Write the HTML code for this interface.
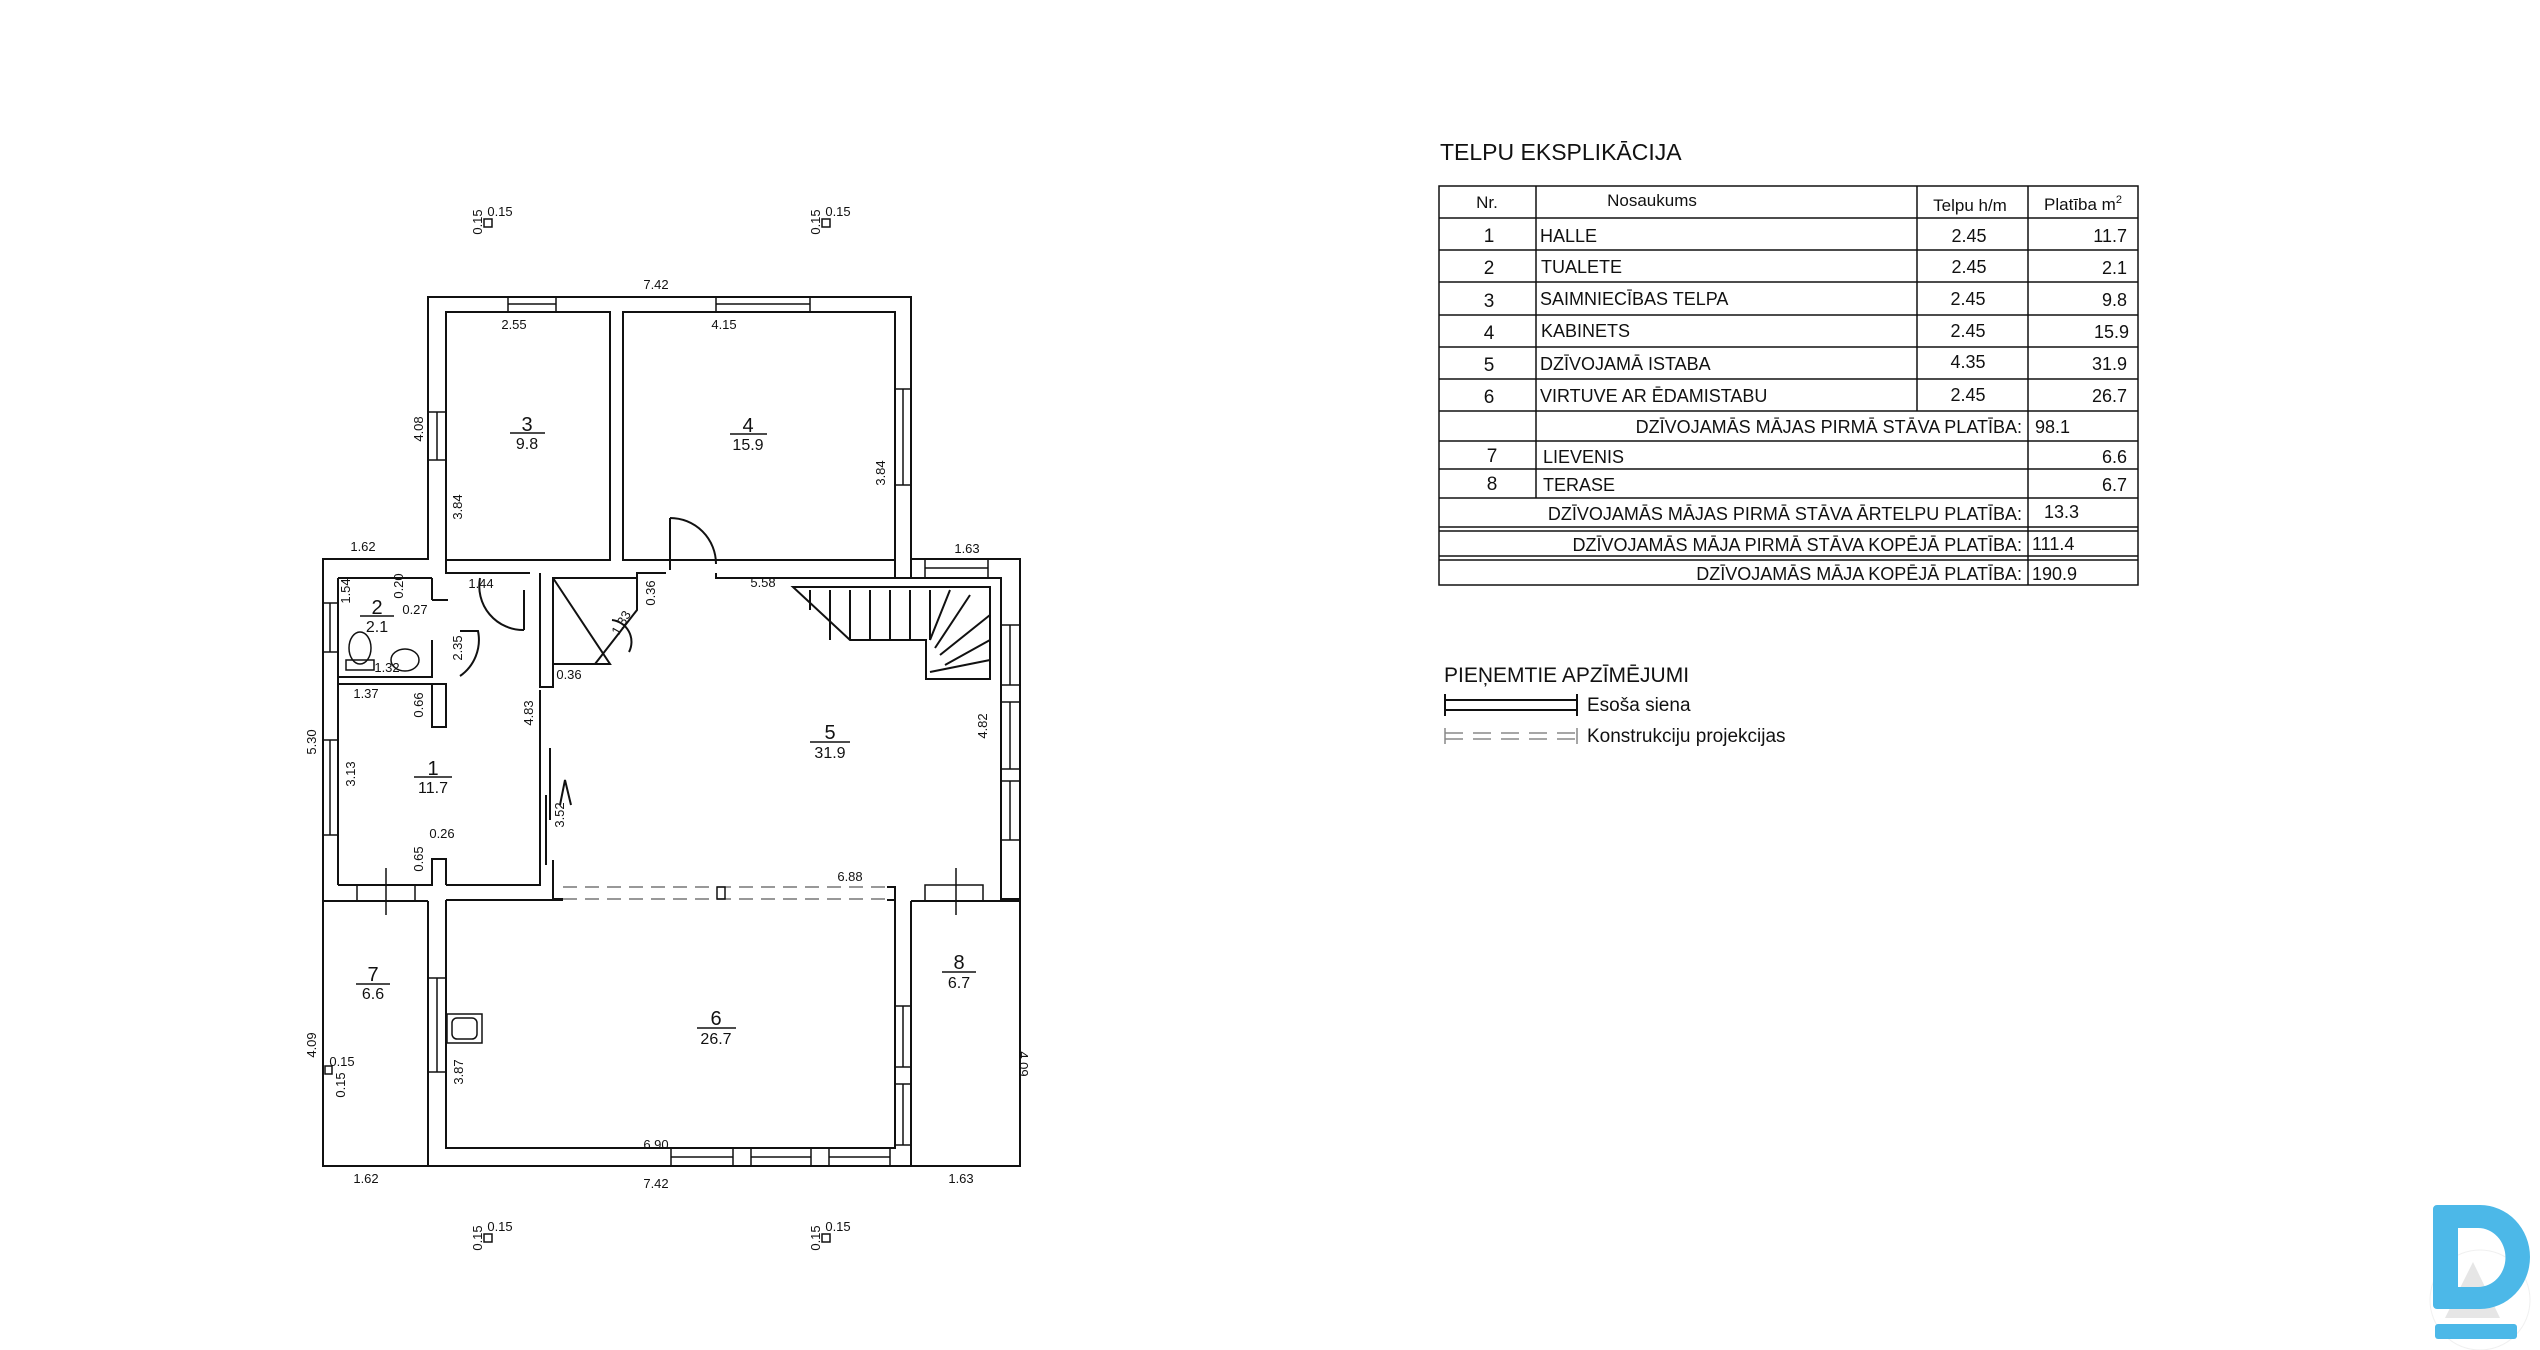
<!DOCTYPE html>
<html><head><meta charset="utf-8"><style>
html,body{margin:0;padding:0;background:#fff}
body{width:2540px;height:1350px;position:relative;overflow:hidden;font-family:"Liberation Sans",sans-serif}
svg{position:absolute;left:0;top:0}
</style></head><body>
<svg width="2540" height="1350" viewBox="0 0 2540 1350" xmlns="http://www.w3.org/2000/svg">
<g fill="none" stroke="#111" stroke-width="2">
<path d="M428 297 H911 V559 H1020 V1166 H323 V559 H428 Z"/>
<rect x="446" y="312" width="164" height="248"/>
<rect x="623" y="312" width="272" height="248"/>
<path d="M338 578 H432 M338 578 V885 M446 560 V573 H530 M540 573 V687 H553 V578 H637 V573 H666 M716 573 V578 H1001 V890"/>
<path d="M895 560 V578 M911 559 V578"/>
<!-- toilet -->
<path d="M432 578 V600 M432 640 V677 H338 M432 600 H448"/>
<path d="M338 684 H446 V727 H432 V684"/>
<path d="M338 885 H432 V859 H446 V885 M446 885 H540 V690 M553 860 V899 H563"/>
<path d="M323 901 H428 M446 900 H563 M887 900 H895 V1148 H446 V900 M428 901 V1166 M911 901 V1166 M911 901 H1020 M1001 890 V899 H1020 M887 887 H895 V900"/>
<path d="M553 578 L610 664 H553 M637 578 V610 L595 664"/>
<path d="M612 620 A 22 22 0 0 1 629 652"/>
<path d="M793 587 H990 V679 H926 V640 H850 Z"/>
<path d="M810 590 V610 M830 590 V640 M850 590 V640 M870 590 V640 M890 590 V640 M910 590 V640 M930 590 V640 M950 590 L930 640 M970 595 L935 648 M990 615 L940 655 M990 640 L945 665 M990 660 L930 672"/>
<path d="M480 578 A 44 44 0 0 0 524 630 M524 630 V590"/>
<path d="M460 631 H478 A 44 44 0 0 1 460 676"/>
<path d="M670 518 V570 M670 518 A 46 46 0 0 1 716 564"/>
<path d="M550 748 V820 M546 795 V865 M560 805 L565 780 L571 805"/>
<path d="M563 887 H887 M563 899 H887" stroke="#777" stroke-dasharray="14 8" stroke-width="1.5"/>
<rect x="717" y="887" width="8" height="12" stroke-width="1.5"/>
<g stroke-width="1.5">
<rect x="508" y="297" width="48" height="15"/><line x1="508" y1="304" x2="556" y2="304"/>
<rect x="716" y="297" width="94" height="15"/><line x1="716" y1="304" x2="810" y2="304"/>
<rect x="895" y="389" width="16" height="96"/><line x1="903" y1="389" x2="903" y2="485"/>
<rect x="428" y="412" width="18" height="48"/><line x1="437" y1="412" x2="437" y2="460"/>
<rect x="323" y="603" width="15" height="49"/><line x1="330" y1="603" x2="330" y2="652"/>
<rect x="323" y="740" width="15" height="95"/><line x1="330" y1="740" x2="330" y2="835"/>
<rect x="925" y="559" width="63" height="19"/><line x1="925" y1="568" x2="988" y2="568"/>
<rect x="1001" y="625" width="19" height="60"/><line x1="1010" y1="625" x2="1010" y2="685"/>
<rect x="1001" y="702" width="19" height="67"/><line x1="1010" y1="702" x2="1010" y2="769"/>
<rect x="1001" y="781" width="19" height="59"/><line x1="1010" y1="781" x2="1010" y2="840"/>
<rect x="428" y="978" width="18" height="94"/><line x1="437" y1="978" x2="437" y2="1072"/>
<rect x="895" y="1006" width="16" height="61"/><line x1="903" y1="1006" x2="903" y2="1067"/>
<rect x="895" y="1084" width="16" height="61"/><line x1="903" y1="1084" x2="903" y2="1145"/>
<rect x="671" y="1148" width="62" height="18"/><line x1="671" y1="1157" x2="733" y2="1157"/>
<rect x="751" y="1148" width="60" height="18"/><line x1="751" y1="1157" x2="811" y2="1157"/>
<rect x="829" y="1148" width="61" height="18"/><line x1="829" y1="1157" x2="890" y2="1157"/>
<rect x="357" y="885" width="58" height="16"/>
<rect x="925" y="885" width="58" height="16"/>
<path d="M386 868 V915 M956 868 V915"/>
<ellipse cx="360" cy="648" rx="11" ry="16"/>
<rect x="346" y="660" width="28" height="10"/>
<ellipse cx="405" cy="660" rx="14" ry="11"/>
<rect x="447" y="1014" width="35" height="29"/>
<rect x="452" y="1018" width="25" height="21" rx="5"/>
<rect x="484" y="219" width="8" height="8"/>
<rect x="822" y="219" width="8" height="8"/>
<rect x="484" y="1234" width="8" height="8"/>
<rect x="822" y="1234" width="8" height="8"/>
<rect x="325" y="1066" width="7" height="8"/>
</g>
<g stroke-width="1.5">
<path d="M510 433 H545 M730 434 H767 M360 616 H394 M414 777 H452 M810 742 H850 M697 1028 H736 M356 984 H390 M942 972 H976"/>
</g>
<g stroke-width="1.5">
<rect x="1439" y="186" width="699" height="399"/>
<path d="M1439 218 H2138 M1439 250 H2138 M1439 282 H2138 M1439 315 H2138 M1439 347 H2138 M1439 379 H2138 M1439 411 H2138 M1439 441 H2138 M1439 469 H2138 M1439 498 H2138 M1439 527 H2138 M1439 531 H2138 M1439 556 H2138 M1439 560 H2138"/>
<path d="M1536 186 V498 M1917 186 V411 M2028 186 V585"/>
</g>
<path d="M1445 700 H1577 M1445 710 H1577 M1445 694 V716 M1577 694 V716" stroke-width="2"/>
<path d="M1445 733 H1577 M1445 739 H1577" stroke="#888" stroke-dasharray="18 10" stroke-width="1.5"/>
<path d="M1445 728 V744 M1577 728 V744" stroke="#888" stroke-width="1.5"/>
</g>
<g>
<circle cx="2480" cy="1300" r="50" fill="none" stroke="#f0f0f0" stroke-width="1"/>
<path d="M2473 1262 L2500 1318 H2445 Z" fill="#e6e6e6"/>
<path d="M2437 1205 H2480 A50 52 0 0 1 2480 1309 H2437 a4 4 0 0 1 -4 -4 V1209 a4 4 0 0 1 4 -4 Z M2458 1228 V1287 H2478 A27 29 0 0 0 2478 1228 Z" fill="#4cb8e8" fill-rule="evenodd"/>
<rect x="2435" y="1324" width="82" height="15" rx="3" fill="#4cb8e8"/>
</g>
<g font-family="Liberation Sans, sans-serif" fill="#111" text-anchor="middle">
<g font-size="20">
<text x="527" y="431">3</text><text x="748" y="432">4</text><text x="377" y="614">2</text>
<text x="433" y="775">1</text><text x="830" y="739">5</text><text x="716" y="1025">6</text>
<text x="373" y="981">7</text><text x="959" y="969">8</text>
</g>
<g font-size="16">
<text x="527" y="449">9.8</text><text x="748" y="450">15.9</text><text x="377" y="632">2.1</text>
<text x="433" y="793">11.7</text><text x="830" y="758">31.9</text><text x="716" y="1044">26.7</text>
<text x="373" y="999">6.6</text><text x="959" y="988">6.7</text>
</g>
<g font-size="13">
<text x="656" y="289">7.42</text><text x="514" y="329">2.55</text><text x="724" y="329">4.15</text>
<text x="363" y="551">1.62</text><text x="967" y="553">1.63</text><text x="415" y="614">0.27</text>
<text x="481" y="588">1.44</text><text x="763" y="587">5.58</text><text x="387" y="672">1.32</text>
<text x="569" y="679">0.36</text><text x="366" y="698">1.37</text><text x="442" y="838">0.26</text>
<text x="850" y="881">6.88</text><text x="656" y="1149">6.90</text><text x="366" y="1183">1.62</text>
<text x="656" y="1188">7.42</text><text x="961" y="1183">1.63</text>
<text x="500" y="216">0.15</text><text x="838" y="216">0.15</text><text x="500" y="1231">0.15</text><text x="838" y="1231">0.15</text>
<text x="342" y="1066">0.15</text>
<text transform="translate(423,429) rotate(-90)">4.08</text>
<text transform="translate(462,507) rotate(-90)">3.84</text>
<text transform="translate(885,473) rotate(-90)">3.84</text>
<text transform="translate(350,591) rotate(-90)">1.54</text>
<text transform="translate(403,586) rotate(-90)">0.20</text>
<text transform="translate(655,593) rotate(-90)">0.36</text>
<text transform="translate(625,625) rotate(-60)">1.33</text>
<text transform="translate(462,648) rotate(-90)">2.35</text>
<text transform="translate(423,705) rotate(-90)">0.66</text>
<text transform="translate(533,713) rotate(-90)">4.83</text>
<text transform="translate(987,726) rotate(-90)">4.82</text>
<text transform="translate(316,742) rotate(-90)">5.30</text>
<text transform="translate(355,774) rotate(-90)">3.13</text>
<text transform="translate(564,815) rotate(-90)">3.52</text>
<text transform="translate(423,859) rotate(-90)">0.65</text>
<text transform="translate(316,1045) rotate(-90)">4.09</text>
<text transform="translate(1019,1064) rotate(90)">4.09</text>
<text transform="translate(463,1072) rotate(-90)">3.87</text>
<text transform="translate(482,222) rotate(-90)">0.15</text><text transform="translate(820,222) rotate(-90)">0.15</text>
<text transform="translate(482,1238) rotate(-90)">0.15</text><text transform="translate(820,1238) rotate(-90)">0.15</text>
<text transform="translate(345,1085) rotate(-90)">0.15</text>
</g>
</g>
<g font-family="Liberation Sans Narrow, Liberation Sans, sans-serif" fill="#111">
<text x="1440" y="160" font-size="23">TELPU EKSPLIKĀCIJA</text>
<g font-size="17" text-anchor="middle">
<text x="1487" y="208">Nr.</text><text x="1652" y="206">Nosaukums</text>
<text x="1970" y="211">Telpu h/m</text><text x="2083" y="210">Platība m<tspan font-size="11" dy="-7">2</tspan></text>
</g>
<g font-size="19" text-anchor="middle">
<text x="1489" y="242">1</text><text x="1489" y="274">2</text><text x="1489" y="307">3</text>
<text x="1489" y="339">4</text><text x="1489" y="371">5</text><text x="1489" y="403">6</text>
<text x="1492" y="462">7</text><text x="1492" y="490">8</text>
</g>
<g font-size="18">
<text x="1540" y="242">HALLE</text><text x="1541" y="273">TUALETE</text><text x="1540" y="305">SAIMNIECĪBAS TELPA</text>
<text x="1541" y="337">KABINETS</text><text x="1540" y="370">DZĪVOJAMĀ ISTABA</text><text x="1540" y="402">VIRTUVE AR ĒDAMISTABU</text>
<text x="1543" y="463">LIEVENIS</text><text x="1543" y="491">TERASE</text>
<text x="2035" y="433">98.1</text><text x="2044" y="518">13.3</text><text x="2032" y="550">111.4</text><text x="2032" y="580">190.9</text>
</g>
<g font-size="18" text-anchor="middle">
<text x="1969" y="242">2.45</text><text x="1969" y="273">2.45</text><text x="1968" y="305">2.45</text>
<text x="1968" y="337">2.45</text><text x="1968" y="368">4.35</text><text x="1968" y="401">2.45</text>
</g>
<g font-size="18" text-anchor="end">
<text x="2127" y="242">11.7</text><text x="2127" y="274">2.1</text><text x="2127" y="306">9.8</text>
<text x="2129" y="338">15.9</text><text x="2127" y="370">31.9</text><text x="2127" y="402">26.7</text>
<text x="2127" y="463">6.6</text><text x="2127" y="491">6.7</text>
<text x="2022" y="433">DZĪVOJAMĀS MĀJAS PIRMĀ STĀVA PLATĪBA:</text>
<text x="2022" y="520">DZĪVOJAMĀS MĀJAS PIRMĀ STĀVA ĀRTELPU PLATĪBA:</text>
<text x="2022" y="551">DZĪVOJAMĀS MĀJA PIRMĀ STĀVA KOPĒJĀ PLATĪBA:</text>
<text x="2022" y="580">DZĪVOJAMĀS MĀJA KOPĒJĀ PLATĪBA:</text>
</g>
</g>
<g font-family="Liberation Sans, sans-serif" fill="#111">
<text x="1444" y="682" font-size="21">PIEŅEMTIE APZĪMĒJUMI</text>
<text x="1587" y="711" font-size="19">Esoša siena</text>
<text x="1587" y="742" font-size="19">Konstrukciju projekcijas</text>
</g>
</svg>
</body></html>
